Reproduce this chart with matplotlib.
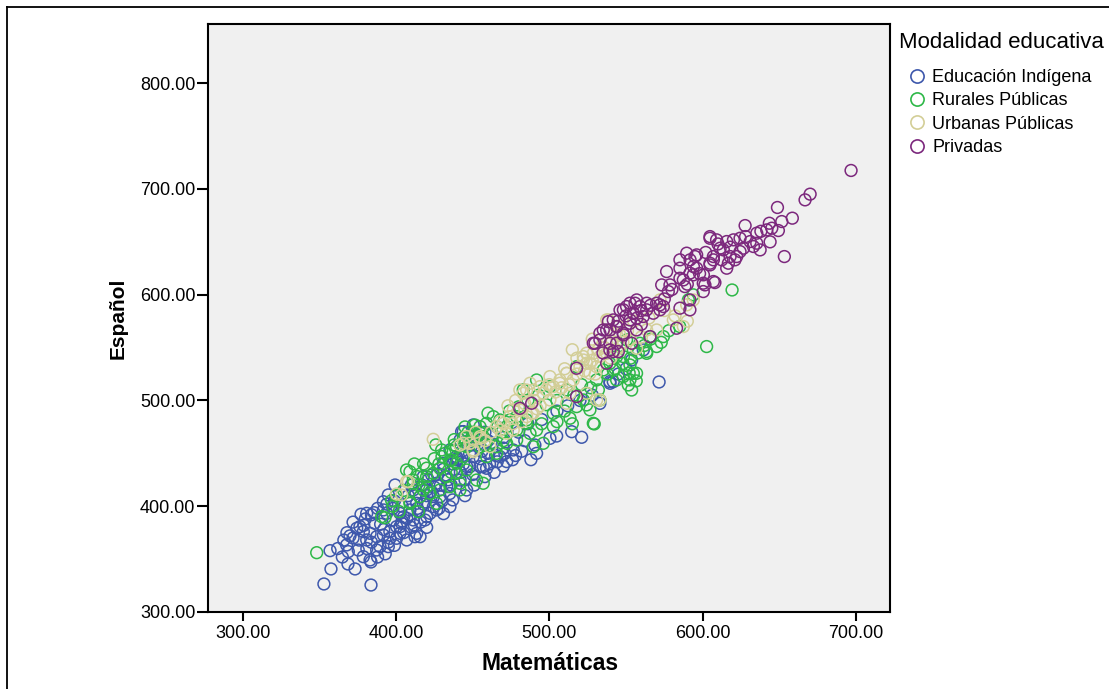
import numpy as np
import matplotlib
matplotlib.use('Agg')
import matplotlib.pyplot as plt
from matplotlib.lines import Line2D

plt.rcParams['font.family'] = ['Liberation Sans', 'DejaVu Sans']

# puntos (Matemáticas, Español)
indigena = [
    (353.0, 326.5), (383.7, 325.5), (357.6, 340.7), (368.7, 345.4), (373.3, 340.7), (383.7, 347.3),
    (377.2, 392.4), (385.7, 393.9), (374.4, 379.1), (378.7, 376.0), (383.1, 374.4), (380.9, 368.1),
    (387.4, 371.2), (391.8, 372.8), (389.6, 361.8), (395.0, 361.8), (396.1, 369.7), (400.4, 369.7),
    (402.6, 374.4), (400.4, 380.7), (403.7, 383.9), (398.3, 387.0), (393.9, 393.3), (402.6, 393.3),
    (407.0, 388.6), (409.1, 396.5), (412.4, 371.2), (415.7, 371.2), (407.0, 368.1), (367.8, 363.4),
    (368.9, 357.1), (375.4, 358.6), (378.7, 352.3), (383.1, 349.2), (387.4, 358.6), (391.8, 396.5),
    (395.0, 410.7), (399.4, 420.1), (391.8, 404.3), (418.9, 387.0), (422.2, 393.3), (424.4, 399.6),
    (415.7, 409.1), (420.0, 415.4), (413.5, 402.8), (424.4, 409.1), (426.5, 421.7), (411.3, 415.4),
    (417.8, 428.0), (423.3, 429.6),
    (443.9, 470.6), (450.4, 476.9), (441.8, 462.7), (435.2, 453.2), (430.9, 440.6), (439.6, 443.8),
    (446.1, 437.5), (450.4, 446.9), (454.8, 437.5), (459.1, 435.9), (441.8, 424.8), (446.1, 415.4),
    (433.1, 418.5), (428.7, 409.1), (435.2, 399.6), (426.5, 396.5), (420.0, 390.2), (411.3, 387.0),
    (402.6, 380.7), (413.5, 374.4), (380.9, 393.3), (376.5, 380.7),
    (442.8, 470.5), (490.6, 457.9), (491.7, 450.0), (500.4, 464.2), (504.8, 466.4), (514.6, 470.5),
    (521.1, 465.2), (541.7, 517.8), (553.7, 538.3), (561.3, 547.8), (533.0, 497.3), (539.6, 516.3),
    (439.5, 446.9), (448.2, 437.4), (456.9, 437.4), (467.8, 446.9), (476.5, 453.2), (472.2, 442.2),
    (571.6, 517.5), (410.0, 420.0), (418.0, 402.0), (425.0, 418.0), (432.0, 428.0), (438.0, 435.0),
    (444.0, 440.0), (436.0, 420.0), (442.0, 432.0), (428.0, 398.0), (415.0, 395.0), (420.0, 410.0),
    (430.0, 405.0), (435.0, 412.0), (445.0, 425.0), (450.0, 430.0), (455.0, 445.0), (460.0, 450.0),
    (465.0, 448.0), (440.0, 445.0), (448.0, 450.0), (453.0, 458.0), (462.0, 460.0), (470.0, 455.0),
    (478.0, 448.0), (484.0, 462.0), (420.0, 380.0), (412.0, 382.0), (405.0, 390.0), (398.0, 398.0),
    (392.0, 378.0), (386.0, 384.0), (380.0, 388.0), (395.0, 366.0), (388.0, 352.0), (384.0, 366.0),
    (372.0, 370.0), (368.0, 375.0), (376.0, 368.0), (362.0, 360.0), (357.0, 358.0), (365.0, 352.0),
    (480.0, 470.0), (486.0, 478.0), (495.0, 482.0), (505.0, 490.0), (512.0, 495.0), (520.0, 500.0),
    (528.0, 505.0), (545.0, 525.0), (550.0, 530.0), (470.0, 465.0), (460.0, 462.0), (452.0, 466.0),
    (458.0, 470.0), (466.0, 475.0), (539.5, 517.9),
    (388.0, 398.0), (394.0, 402.0), (399.0, 405.0), (404.0, 400.0), (408.0, 410.0), (413.0, 412.0),
    (417.0, 420.0), (421.0, 425.0), (427.0, 430.0), (431.0, 435.0), (437.0, 440.0), (443.0, 452.0),
    (447.0, 458.0), (451.0, 462.0), (456.0, 452.0), (461.0, 440.0), (466.0, 442.0), (471.0, 450.0),
    (434.0, 425.0), (429.0, 420.0), (423.0, 414.0), (419.0, 404.0), (414.0, 398.0), (409.0, 392.0),
    (404.0, 386.0), (396.0, 376.0), (390.0, 383.0), (384.0, 392.0), (379.0, 382.0), (372.0, 385.0),
    (370.0, 372.0), (366.0, 368.0), (381.0, 360.0), (393.0, 355.0), (399.0, 363.0), (405.0, 375.0),
    (410.0, 380.0), (416.0, 385.0), (431.0, 393.0), (437.0, 406.0), (445.0, 410.0), (451.0, 420.0),
    (458.0, 428.0), (464.0, 432.0), (470.0, 438.0), (476.0, 444.0), (482.0, 452.0), (488.0, 444.0),
]

rurales = [
    (348.3, 356.1), (392.8, 389.2), (390.7, 390.2), (397.2, 405.3), (409.1, 404.3), (414.6, 394.9),
    (417.8, 415.4), (411.3, 421.7), (420.0, 428.0), (409.1, 432.7),
    (406.9, 434.3), (411.3, 424.8), (424.3, 431.1), (428.7, 435.8), (429.8, 453.2), (435.2, 443.7),
    (439.6, 440.6), (443.9, 446.9), (446.1, 456.3), (449.3, 462.6), (451.5, 476.8), (459.1, 478.4),
    (463.5, 484.7), (467.8, 481.6), (472.2, 475.3), (478.7, 484.7), (485.2, 478.4), (487.4, 468.9),
    (491.7, 472.1), (456.9, 465.8), (454.8, 456.3), (459.1, 446.9), (465.6, 450.0), (446.1, 434.3),
    (452.6, 424.8), (441.7, 421.7), (435.2, 418.5), (428.7, 415.4), (422.2, 412.2), (415.6, 409.1),
    (409.1, 402.7), (433.0, 428.0), (441.7, 415.4), (426.5, 402.7), (439.6, 431.1), (420.0, 418.5),
    (478.7, 462.6), (489.6, 456.3), (472.2, 459.5),
    (483.0, 510.0), (491.7, 519.4), (500.4, 513.1), (511.3, 510.0), (517.8, 532.0), (530.8, 519.4),
    (535.2, 528.9), (539.5, 535.2), (543.9, 541.5), (546.1, 550.9), (550.4, 557.3), (554.8, 525.7),
    (548.2, 522.6), (551.5, 514.7), (533.0, 500.5), (528.7, 478.4), (513.5, 483.2), (502.6, 487.9),
    (517.8, 494.2), (526.5, 491.1), (522.2, 500.5), (543.9, 519.4), (552.6, 533.6), (554.8, 547.8),
    (593.9, 599.9), (590.7, 595.1), (565.7, 560.4), (574.4, 560.4), (570.0, 551.0), (563.5, 546.3),
    (602.6, 551.0), (559.1, 554.1), (548.3, 541.5),
    (529.3, 477.8), (552.1, 526.0), (556.7, 518.5), (619.2, 604.5),
    (502.6, 475.3), (496.1, 459.5), (552.6, 519.4), (556.9, 525.7), (541.7, 528.9), (524.3, 495.8),
    (524.3, 506.8), (485.2, 481.6), (474.3, 481.6), (454.8, 475.3), (448.2, 462.6), (439.5, 456.3),
    (436.3, 443.7), (456.9, 421.7), (465.6, 456.3), (478.7, 472.1), (563.5, 544.6), (553.7, 509.9),
    (420.0, 436.0), (425.0, 445.0), (432.0, 450.0), (438.0, 458.0), (444.0, 465.0), (450.0, 470.0),
    (428.0, 440.0), (436.0, 432.0), (415.0, 420.0), (405.0, 415.0), (400.0, 410.0), (398.0, 400.0),
    (402.0, 395.0), (412.0, 440.0),
    (430.0, 447.0), (436.0, 452.0), (442.0, 458.0), (447.0, 470.0), (452.0, 466.0), (458.0, 458.0),
    (463.0, 468.0), (469.0, 470.0), (474.0, 490.0), (480.0, 494.0), (486.0, 500.0), (493.0, 505.0),
    (498.0, 496.0), (505.0, 500.0), (510.0, 490.0), (516.0, 505.0), (521.0, 515.0), (527.0, 512.0),
    (532.0, 510.0), (538.0, 525.0), (543.0, 530.0), (548.0, 535.0), (553.0, 540.0), (558.0, 545.0),
    (562.0, 552.0), (566.0, 558.0), (573.0, 555.0), (578.0, 566.0), (585.0, 570.0), (460.0, 488.0),
    (455.0, 470.0), (445.0, 475.0), (438.0, 463.0), (426.0, 458.0), (418.0, 440.0), (414.0, 428.0),
    (470.0, 462.0), (495.0, 478.0), (505.0, 480.0), (515.0, 478.0),
]

urbanas = [
    (424.3, 463.3), (408.1, 423.3), (400.4, 411.6), (406.9, 423.2), (403.7, 410.6), (441.7, 457.9),
    (454.8, 464.2), (450.4, 451.6), (461.3, 456.3), (467.8, 472.1), (470.0, 478.4), (474.3, 484.7),
    (476.5, 472.1), (480.9, 491.0), (483.0, 506.8), (489.6, 509.9), (485.2, 484.7), (472.2, 469.0),
    (488.5, 487.9),
    (480.8, 510.0), (487.4, 516.3), (493.9, 513.1), (500.4, 522.6), (506.9, 516.3), (511.3, 525.7),
    (515.6, 519.4), (522.2, 541.5), (526.5, 535.2), (530.8, 532.0), (520.0, 532.0), (533.0, 541.5),
    (537.4, 576.2), (537.4, 554.1), (542.8, 563.6), (528.7, 544.7), (513.5, 506.8), (524.3, 506.8),
    (533.0, 500.5), (476.5, 491.1), (489.5, 487.9), (500.4, 500.5), (496.1, 506.8), (511.3, 497.4),
    (502.6, 513.1),
    (587.4, 569.9), (589.6, 590.4), (572.2, 595.1), (538.5, 576.2), (580.9, 576.2), (546.1, 551.0),
    (524.3, 544.7), (570.0, 566.7), (563.5, 566.7), (593.9, 595.1),
    (537.4, 544.6), (524.3, 535.2), (530.9, 500.5), (506.9, 519.4), (485.2, 509.9), (465.6, 475.3),
    (454.8, 465.8), (448.2, 459.5), (443.9, 459.5), (450.4, 453.2), (511.3, 525.7), (522.2, 538.3),
    (526.5, 525.7), (543.9, 547.8), (552.6, 557.3), (556.9, 549.3),
    (515.0, 548.0), (528.0, 558.0), (545.0, 570.0), (555.0, 575.0), (560.0, 560.0), (575.0, 585.0),
    (582.0, 580.0), (590.0, 575.0), (565.0, 578.0), (548.0, 555.0),
    (462.0, 470.0), (468.0, 480.0), (473.0, 495.0), (478.0, 500.0), (484.0, 497.0), (490.0, 500.0),
    (494.0, 495.0), (498.0, 510.0), (504.0, 508.0), (508.0, 512.0), (513.0, 515.0), (518.0, 525.0),
    (523.0, 528.0), (528.0, 538.0), (532.0, 548.0), (536.0, 550.0), (541.0, 556.0), (546.0, 562.0),
    (551.0, 566.0), (518.0, 540.0), (510.0, 530.0), (500.0, 515.0), (492.0, 492.0), (482.0, 480.0),
    (476.0, 478.0), (458.0, 462.0), (452.0, 470.0), (446.0, 466.0), (540.0, 540.0), (530.0, 525.0),
]

privadas = [
    (480.8, 492.6), (488.5, 497.4), (517.8, 503.7), (517.8, 530.5), (537.4, 535.2), (528.7, 554.1),
    (533.0, 557.3), (537.4, 566.7), (543.9, 569.9), (539.5, 547.8), (543.9, 554.1), (548.2, 563.6),
    (552.6, 573.0), (556.9, 566.7), (553.7, 554.1), (550.4, 588.8), (554.8, 582.5), (555.9, 592.0),
    (546.1, 585.6), (541.7, 576.2), (533.0, 563.6), (545.0, 546.2),
    (604.8, 655.0), (609.1, 651.9), (589.6, 639.3), (595.0, 636.1), (585.2, 633.0), (585.2, 625.1),
    (576.5, 621.9), (607.0, 636.1), (604.8, 629.8), (596.1, 625.1), (591.7, 620.4), (585.2, 615.6),
    (587.4, 614.0), (573.3, 609.3), (578.7, 609.3), (577.6, 603.0), (600.4, 610.9), (607.0, 612.5),
    (600.4, 603.0), (591.7, 595.1), (585.2, 587.3), (591.7, 585.7), (557.0, 595.1), (552.6, 592.0),
    (563.5, 592.0), (570.0, 592.0), (574.4, 588.8), (559.1, 588.8), (548.3, 585.7), (554.8, 582.5),
    (563.5, 585.7), (567.8, 582.5), (572.2, 585.7), (561.3, 579.4), (552.6, 576.2), (557.0, 577.8),
    (538.5, 574.6), (543.9, 569.9), (535.2, 566.7), (539.6, 566.7), (548.3, 562.0), (583.0, 568.3),
    (565.7, 560.4), (529.8, 554.1), (539.6, 554.1), (541.7, 546.3),
    (696.8, 717.5), (670.1, 695.1), (666.8, 689.7), (648.8, 682.5), (658.5, 672.4), (651.6, 669.2),
    (643.5, 667.6), (641.8, 661.3), (645.1, 662.9), (649.4, 660.7), (635.3, 658.2), (627.7, 665.4),
    (604.8, 653.4), (615.7, 650.3), (620.1, 651.9), (624.4, 653.4), (631.0, 650.3), (635.3, 648.7),
    (637.5, 642.4), (633.1, 645.6), (613.5, 642.4), (611.4, 644.0), (617.9, 636.1), (622.2, 636.1),
    (624.4, 640.8), (626.6, 644.0), (612.5, 633.0), (616.8, 629.8), (621.1, 633.0), (615.7, 625.1),
    (607.0, 633.0), (596.1, 637.7), (594.0, 626.6), (653.3, 636.1), (600.5, 618.8), (591.8, 633.0),
    (604.8, 628.2), (593.9, 618.8), (588.4, 607.7), (601.5, 609.3), (608.0, 611.5), (572.1, 590.4),
    (545.0, 575.0), (550.0, 580.0), (560.0, 585.0), (566.0, 590.0), (575.0, 596.0), (580.0, 605.0),
    (590.0, 610.0), (598.0, 620.0), (602.0, 640.0), (610.0, 648.0), (618.0, 645.0), (628.0, 655.0),
    (638.0, 660.0), (644.0, 650.0), (560.0, 572.0), (535.0, 545.0),
]

grupos = ['Educación Indígena', 'Rurales Públicas', 'Urbanas Públicas', 'Privadas']
colores = ['#3E58AC', '#2EB848', '#D3CE97', '#7C287D']
datos = [indigena, rurales, urbanas, privadas]

fig = plt.figure(figsize=(11.09, 6.89), dpi=100)
ax = fig.add_axes([208 / 1109, 1 - 612 / 689, (890 - 208) / 1109, (612 - 24) / 689])
ax.set_facecolor('#F0F0F0')

for nombre, col, pts in zip(grupos, colores, datos):
    pts = np.array(pts)
    ax.scatter(pts[:, 0], pts[:, 1], s=72, facecolors='none', edgecolors=col,
               linewidths=1.1, label=nombre)

ax.set_xlim(277.4, 722.2)
ax.set_ylim(300, 856)
ax.set_xticks([300, 400, 500, 600, 700])
ax.set_yticks([300, 400, 500, 600, 700, 800])
ax.xaxis.set_major_formatter(matplotlib.ticker.FormatStrFormatter('%.2f'))
ax.yaxis.set_major_formatter(matplotlib.ticker.FormatStrFormatter('%.2f'))
ax.tick_params(axis='x', length=6.5, width=1.5, pad=3, labelsize=13)
ax.tick_params(axis='y', length=8, width=1.5, pad=1, labelsize=13)
for sp in ax.spines.values():
    sp.set_linewidth(1.5)

fig.text(550 / 1109, 1 - 664 / 689, 'Matemáticas', ha='center', va='center',
         fontsize=16.5, fontweight='bold')
fig.text(118 / 1109, 1 - 318 / 689, 'Español', ha='center', va='center',
         rotation=90, fontsize=15, fontweight='bold')

# leyenda
fig.text(899 / 1109, 1 - 42 / 689, 'Modalidad educativa', ha='left', va='center', fontsize=16)
handles = [Line2D([], [], linestyle='none', marker='o', markersize=9.5, markerfacecolor='none',
                  markeredgecolor=c, markeredgewidth=1.2) for c in colores]
fig.legend(handles, grupos, loc='upper left', bbox_to_anchor=(909 / 1109, 1 - 69 / 689),
           frameon=False, fontsize=13, handlelength=0.9, handletextpad=0.4,
           labelspacing=0.35, borderpad=0, borderaxespad=0)

# marco exterior
fig.add_artist(Line2D([7 / 1109, 1], [1 - 7 / 689, 1 - 7 / 689], color='black', lw=1.3))
fig.add_artist(Line2D([7 / 1109, 7 / 1109], [0, 1 - 7 / 689], color='black', lw=1.3))

fig.savefig('out.png', dpi=100)
